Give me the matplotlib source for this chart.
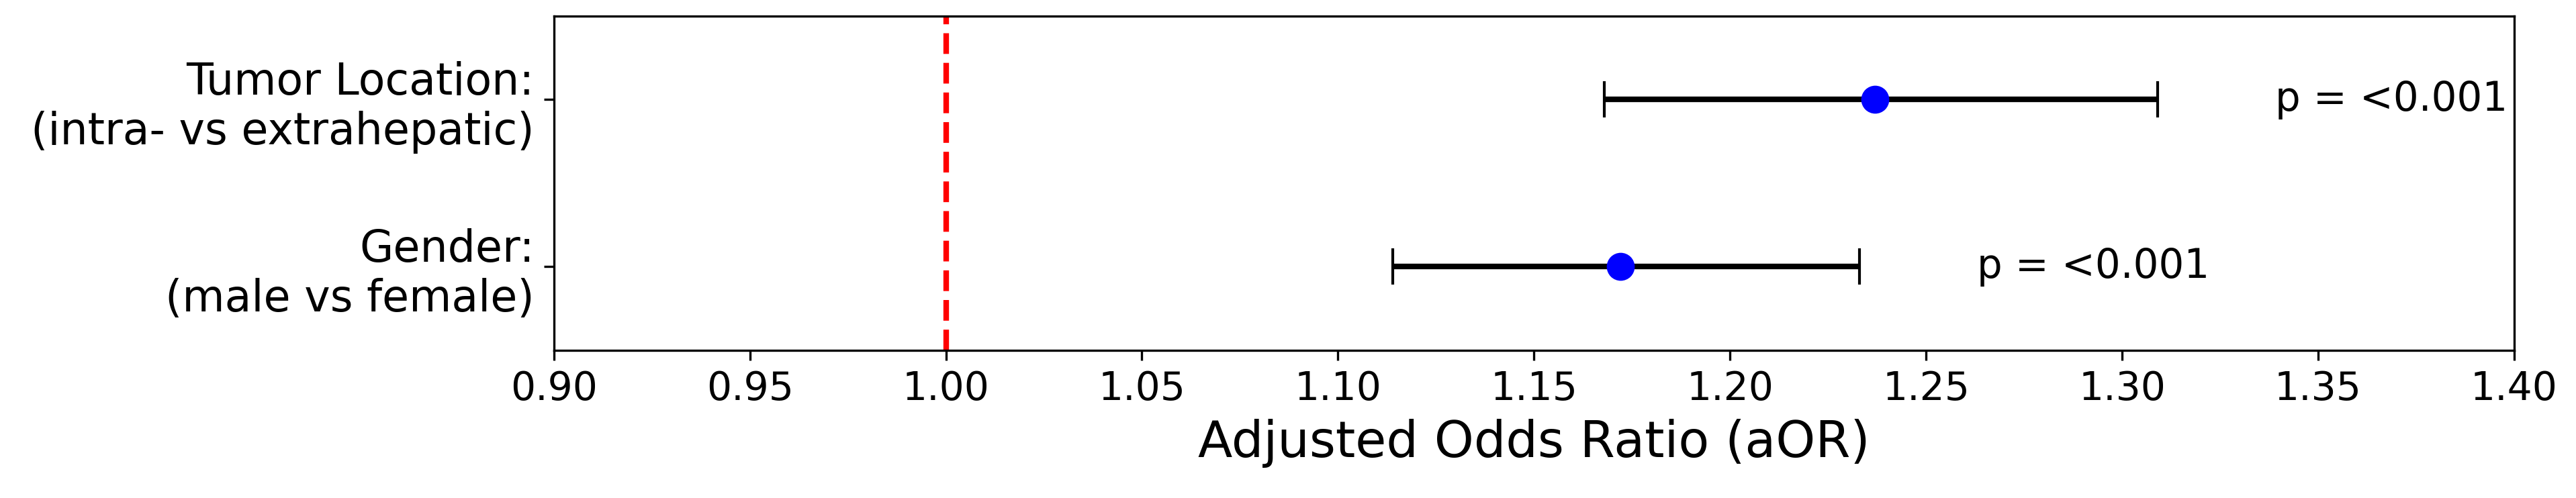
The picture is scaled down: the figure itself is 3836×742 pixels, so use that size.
import matplotlib
matplotlib.use("Agg")
import matplotlib.pyplot as plt
import numpy as np

# forest plot data
labels = ["Gender:\n(male vs female)", "Tumor Location:\n(intra- vs extrahepatic)"]
aor = [1.172, 1.237]
ci_low = [1.114, 1.168]
ci_high = [1.233, 1.309]
p_text = ["p = <0.001", "p = <0.001"]
xticks = np.arange(0.90, 1.401, 0.05)

fig, ax = plt.subplots(figsize=(3836 / 300, 742 / 300), dpi=300)
plt.subplots_adjust(left=0.215, right=0.976, top=0.968, bottom=0.297)

y = np.arange(len(labels))
err = [np.array(aor) - np.array(ci_low), np.array(ci_high) - np.array(aor)]
ax.errorbar(aor, y, xerr=err, fmt='o', color='blue', markersize=9,
            ecolor='black', elinewidth=2, capsize=6.5, zorder=3)

for i in range(len(labels)):
    ax.text(ci_high[i] + 0.03, y[i], p_text[i], va='center', ha='left', fontsize=14.3)

ax.axvline(1.0, color='red', linestyle='--', linewidth=2)

ax.set_yticks(y)
ax.set_yticklabels(labels, fontsize=15.6)
ax.set_ylim(-0.5, 1.5)
ax.set_xlim(0.9, 1.4)
ax.set_xticks(xticks)
ax.set_xticklabels([f"{v:.2f}" for v in xticks], fontsize=14)
ax.set_xlabel("Adjusted Odds Ratio (aOR)", fontsize=18)

plt.savefig("out.png", dpi=300)
